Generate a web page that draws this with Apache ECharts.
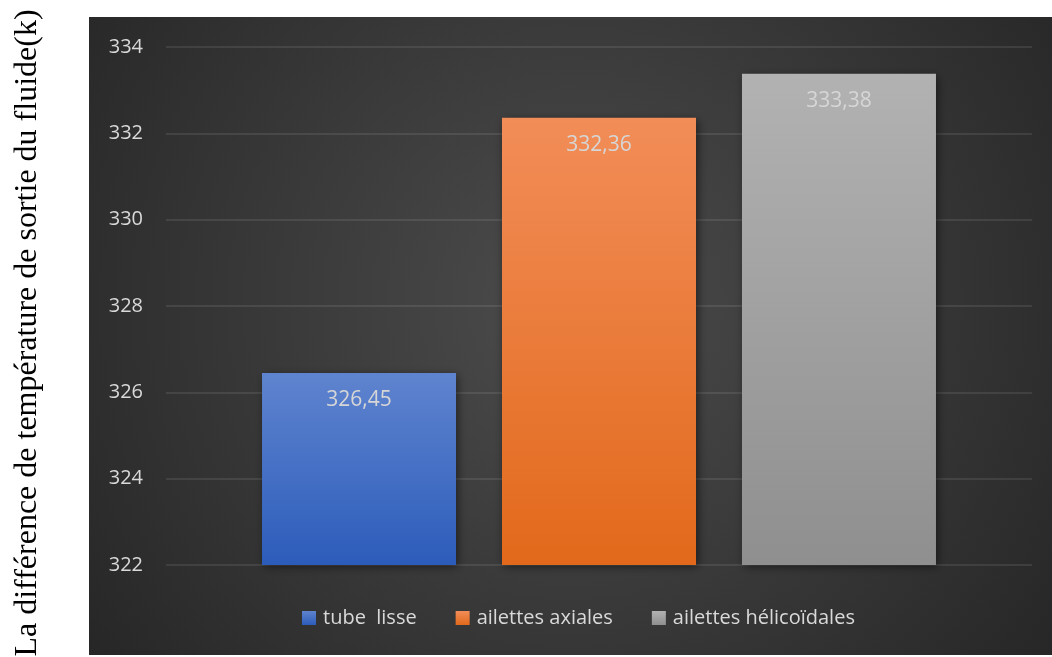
<!DOCTYPE html>
<html>
<head>
<meta charset="utf-8">
<script src="https://cdn.jsdelivr.net/npm/echarts@6/dist/echarts.min.js"></script>
<style>
  html, body { margin: 0; padding: 0; background: #ffffff; }
  #chart { width: 1052px; height: 657px; }
</style>
</head>
<body>
<div id="chart"></div>
<script>
// Exit temperature for each tube configuration
const seriesNames = ['tube  lisse', 'ailettes axiales', 'ailettes hélicoïdales'];
const seriesValues = [326.45, 332.36, 333.38];
const yTicks = [322, 324, 326, 328, 330, 332, 334];
const yAxisTitle = 'La différence de température de sortie du fluide(k)';

// top / bottom gradient stops for each bar
const barColors = [
  ['#5f84cf', '#2c5cba'],
  ['#f28d58', '#e2691b'],
  ['#b2b2b2', '#8f8f8f']
];

const chart = echarts.init(document.getElementById('chart'), null, { renderer: 'canvas' });

const series = seriesNames.map((name, i) => ({
  name: name,
  type: 'bar',
  data: [seriesValues[i]],
  barWidth: 194,
  barGap: '23.7%',
  itemStyle: {
    color: new echarts.graphic.LinearGradient(0, 0, 0, 1, [
      { offset: 0, color: barColors[i][0] },
      { offset: 1, color: barColors[i][1] }
    ]),
    shadowBlur: 9,
    shadowColor: 'rgba(0,0,0,0.55)',
    shadowOffsetX: 2,
    shadowOffsetY: 2
  },
  label: {
    show: true,
    position: 'insideTop',
    distance: 17,
    color: '#d6d6d6',
    fontFamily: 'Open Sans',
    fontSize: 21,
    formatter: p => p.value.toFixed(2).replace('.', ',')
  }
}));

chart.setOption({
  backgroundColor: '#ffffff',
  animation: false,
  graphic: [
    {
      type: 'rect',
      z: -10,
      shape: { x: 89, y: 17, width: 963, height: 638 },
      style: {
        fill: new echarts.graphic.RadialGradient(0.5, 0.45, 0.95, [
          { offset: 0, color: '#4c4c4c' },
          { offset: 1, color: '#262626' }
        ])
      },
      silent: true
    },
    {
      type: 'text',
      x: 28,
      y: 333,
      rotation: Math.PI / 2,
      style: {
        text: yAxisTitle,
        fill: '#000000',
        font: '32px "Liberation Serif"',
        align: 'center',
        verticalAlign: 'middle'
      }
    }
  ],
  grid: { left: 166, right: 20, top: 47, bottom: 92 },
  legend: {
    data: seriesNames,
    bottom: 24,
    left: 297,
    icon: 'rect',
    itemWidth: 14,
    itemHeight: 14,
    itemGap: 39,
    textStyle: {
      color: '#d9d9d9',
      fontFamily: 'Open Sans',
      fontSize: 20,
      padding: [0, 0, 0, 2]
    }
  },
  xAxis: {
    type: 'category',
    data: [''],
    axisLine: { show: false },
    axisTick: { show: false },
    axisLabel: { show: false }
  },
  yAxis: {
    type: 'value',
    min: yTicks[0],
    max: yTicks[yTicks.length - 1],
    interval: yTicks[1] - yTicks[0],
    axisLine: { show: false },
    axisTick: { show: false },
    axisLabel: {
      color: '#d9d9d9',
      fontFamily: 'Open Sans',
      fontSize: 20,
      margin: 23
    },
    splitLine: { lineStyle: { color: 'rgba(255,255,255,0.12)', width: 1.5 } }
  },
  series: series
});
</script>
</body>
</html>
